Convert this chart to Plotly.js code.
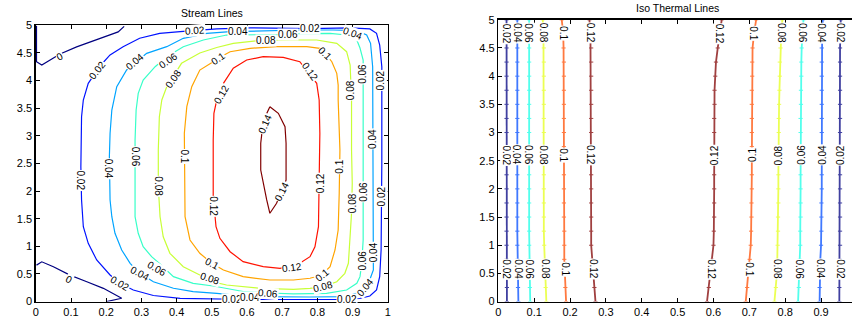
<!DOCTYPE html>
<html>
<head>
<meta charset="utf-8">
<script src="https://cdn.plot.ly/plotly-3.0.1.min.js"></script>
<style>
  html, body { margin: 0; padding: 0; background: #fff; }
  #chart { width: 852px; height: 322px; }
</style>
</head>
<body>
<div id="chart"></div>
<script>
// ---------- Stream function contours: [x, y] vertices of each level line ----------
const psi000Top = [[0.002,4.99],[0.002,4.34],[0.017,4.28],[0.04,4.37],[0.069,4.48],[0.116,4.61],[0.154,4.70],[0.192,4.78],[0.234,4.88],[0.251,4.98]];
const psi000Bottom = [[0.002,0.66],[0.017,0.72],[0.05,0.63],[0.097,0.48],[0.145,0.36],[0.192,0.24],[0.244,0.06],[0.201,0.0]];
const psi002 = [[0.41,4.884],[0.352,4.855],[0.295,4.765],[0.248,4.613],[0.211,4.463],[0.185,4.282],[0.149,3.95],[0.135,3.648],[0.13,3.346],[0.128,2.441],[0.13,1.839],[0.135,1.355],[0.149,1.055],[0.173,0.753],[0.211,0.481],[0.239,0.331],[0.277,0.21],[0.334,0.11],[0.41,0.06],[0.523,0.042],[0.608,0.038],[0.864,0.038],[0.92,0.056],[0.949,0.101],[0.968,0.21],[0.977,0.451],[0.981,0.934],[0.983,2.503],[0.983,4.25],[0.977,4.64],[0.968,4.855],[0.949,4.935],[0.892,4.955],[0.779,4.94],[0.609,4.955],[0.514,4.935],[0.41,4.884]];
const psi004 = [[0.209,2.622],[0.211,1.839],[0.216,1.536],[0.225,1.236],[0.244,0.934],[0.268,0.693],[0.296,0.512],[0.334,0.36],[0.391,0.241],[0.447,0.179],[0.514,0.15],[0.609,0.092],[0.779,0.083],[0.883,0.089],[0.921,0.179],[0.945,0.331],[0.959,0.572],[0.959,1.055],[0.957,1.839],[0.957,3.648],[0.957,4.251],[0.951,4.674],[0.94,4.825],[0.912,4.902],[0.845,4.915],[0.75,4.915],[0.637,4.897],[0.552,4.884],[0.486,4.855],[0.419,4.765],[0.372,4.613],[0.315,4.493],[0.258,4.191],[0.23,3.889],[0.216,3.467],[0.211,3.046],[0.209,2.622]];
const psi006 = [[0.282,2.923],[0.282,1.536],[0.291,1.236],[0.305,0.993],[0.329,0.813],[0.353,0.68],[0.391,0.451],[0.447,0.331],[0.504,0.282],[0.589,0.183],[0.661,0.156],[0.732,0.138],[0.826,0.15],[0.883,0.21],[0.912,0.331],[0.921,0.451],[0.926,0.693],[0.93,1.115],[0.93,2.743],[0.93,3.648],[0.93,4.372],[0.921,4.589],[0.912,4.734],[0.883,4.825],[0.836,4.855],[0.75,4.851],[0.689,4.833],[0.542,4.824],[0.476,4.734],[0.419,4.613],[0.372,4.432],[0.339,4.251],[0.305,4.01],[0.291,3.769],[0.285,3.467],[0.282,2.923]];
const psi008 = [[0.348,2.441],[0.348,2.743],[0.351,3.346],[0.358,3.648],[0.372,3.889],[0.391,4.07],[0.414,4.312],[0.466,4.499],[0.514,4.598],[0.561,4.674],[0.637,4.725],[0.722,4.734],[0.798,4.734],[0.855,4.674],[0.883,4.522],[0.893,4.282],[0.895,4.01],[0.897,3.648],[0.897,2.743],[0.899,2.141],[0.897,1.598],[0.891,0.934],[0.888,0.693],[0.878,0.512],[0.855,0.36],[0.817,0.27],[0.779,0.241],[0.732,0.223],[0.637,0.241],[0.542,0.3],[0.5,0.36],[0.466,0.481],[0.419,0.632],[0.381,0.874],[0.362,1.174],[0.353,1.536],[0.348,2.079],[0.348,2.441]];
const psi010 = [[0.504,4.341],[0.466,4.19],[0.443,3.889],[0.429,3.527],[0.422,3.046],[0.422,2.141],[0.424,1.536],[0.438,1.115],[0.466,0.874],[0.5,0.693],[0.533,0.572],[0.589,0.451],[0.665,0.391],[0.732,0.391],[0.779,0.422],[0.812,0.481],[0.836,0.632],[0.85,0.934],[0.859,1.296],[0.862,1.96],[0.864,2.743],[0.859,3.648],[0.859,3.918],[0.855,4.131],[0.841,4.341],[0.822,4.493],[0.807,4.584],[0.77,4.613],[0.684,4.613],[0.609,4.584],[0.552,4.522],[0.518,4.403],[0.504,4.341]];
const psi012 = [[0.506,3.407],[0.504,2.924],[0.504,1.898],[0.512,1.355],[0.523,1.145],[0.552,0.903],[0.589,0.722],[0.646,0.632],[0.694,0.603],[0.75,0.693],[0.779,0.813],[0.793,0.993],[0.803,1.355],[0.805,1.929],[0.807,2.743],[0.807,3.046],[0.805,3.648],[0.798,3.95],[0.75,4.341],[0.703,4.421],[0.646,4.432],[0.599,4.372],[0.561,4.222],[0.533,3.95],[0.514,3.648],[0.506,3.407]];
const psi014 = [[0.665,3.527],[0.689,3.408],[0.708,3.165],[0.711,2.865],[0.711,2.381],[0.711,2.2],[0.684,1.779],[0.665,1.598],[0.656,1.839],[0.639,2.381],[0.639,2.865],[0.645,3.2],[0.652,3.35],[0.665,3.527]];

const streamLines = [
  { level: 0,    pts: psi000Top },
  { level: 0,    pts: psi000Bottom },
  { level: 0.02, pts: psi002 },
  { level: 0.04, pts: psi004 },
  { level: 0.06, pts: psi006 },
  { level: 0.08, pts: psi008 },
  { level: 0.1,  pts: psi010 },
  { level: 0.12, pts: psi012 },
  { level: 0.14, pts: psi014 }
];

// inline contour labels: [level, x, y, rotation]
const streamLabelSpots = [
  [0, 0.068, 4.43, -28], [0, 0.095, 0.40, 27],
  [0.02, 0.452, 4.90, -4], [0.02, 0.173, 4.19, -52], [0.02, 0.127, 2.20, 90], [0.02, 0.239, 0.33, 30],
  [0.02, 0.557, 0.03, 0], [0.02, 0.883, 0.03, 0], [0.02, 0.983, 1.90, -90], [0.02, 0.979, 4.01, -90], [0.02, 0.779, 4.94, 0],
  [0.04, 0.282, 4.34, -40], [0.04, 0.207, 2.41, 90], [0.04, 0.296, 0.51, 28], [0.04, 0.609, 0.08, 0],
  [0.04, 0.935, 0.26, -50], [0.04, 0.959, 0.90, -90], [0.04, 0.956, 2.95, -90], [0.04, 0.902, 4.86, 20], [0.04, 0.575, 4.88, 0],
  [0.06, 0.376, 4.37, -35], [0.06, 0.282, 2.62, 90], [0.06, 0.343, 0.60, 30], [0.06, 0.661, 0.15, 5],
  [0.06, 0.928, 0.75, -90], [0.06, 0.930, 1.99, -90], [0.06, 0.928, 4.13, -90], [0.06, 0.716, 4.84, 0],
  [0.08, 0.391, 4.04, -55], [0.08, 0.348, 2.08, 90], [0.08, 0.495, 0.42, 18], [0.08, 0.817, 0.27, -15],
  [0.08, 0.898, 1.78, -90], [0.08, 0.896, 3.83, -90], [0.08, 0.655, 4.72, 0],
  [0.1, 0.518, 4.40, -35], [0.1, 0.422, 2.62, 90], [0.1, 0.500, 0.69, 28], [0.1, 0.812, 0.48, -40],
  [0.1, 0.864, 2.44, -90], [0.1, 0.822, 4.49, 45],
  [0.12, 0.528, 3.74, -60], [0.12, 0.779, 4.16, 55], [0.12, 0.807, 2.14, -90], [0.12, 0.727, 0.62, -8], [0.12, 0.504, 1.72, 90],
  [0.14, 0.650, 3.21, -66], [0.14, 0.699, 1.99, -64]
];

// ---------- Isotherms: x position of each level line at every y station ----------
const isoY = [0,0.25,0.5,0.75,1,1.25,1.5,1.75,2,2.25,2.5,2.75,3,3.25,3.5,3.75,4,4.25,4.5,4.75,5];
const iso002a = [0.024,0.024,0.023,0.023,0.023,0.023,0.023,0.023,0.023,0.023,0.023,0.023,0.023,0.023,0.023,0.023,0.023,0.023,0.023,0.023,0.023];
const iso004a = [0.056,0.055,0.054,0.053,0.053,0.053,0.053,0.053,0.053,0.053,0.053,0.053,0.053,0.053,0.053,0.053,0.053,0.053,0.053,0.053,0.053];
const iso006a = [0.089,0.088,0.087,0.086,0.086,0.086,0.086,0.086,0.086,0.086,0.086,0.086,0.086,0.086,0.086,0.086,0.086,0.086,0.086,0.086,0.086];
const iso008a = [0.134,0.132,0.130,0.128,0.128,0.127,0.127,0.127,0.127,0.127,0.127,0.127,0.127,0.127,0.127,0.127,0.127,0.127,0.127,0.126,0.124];
const iso010a = [0.189,0.187,0.185,0.184,0.184,0.184,0.183,0.183,0.183,0.183,0.183,0.183,0.183,0.183,0.183,0.183,0.183,0.183,0.182,0.181,0.177];
const iso012a = [0.271,0.268,0.264,0.261,0.259,0.259,0.259,0.259,0.259,0.259,0.259,0.259,0.259,0.259,0.259,0.259,0.259,0.259,0.259,0.257,0.254];
const iso012b = [0.582,0.587,0.592,0.596,0.600,0.601,0.602,0.602,0.602,0.602,0.602,0.602,0.602,0.602,0.603,0.603,0.605,0.607,0.612,0.617,0.623];
const iso010b = [0.690,0.694,0.698,0.701,0.704,0.705,0.706,0.706,0.707,0.707,0.707,0.707,0.707,0.707,0.707,0.707,0.708,0.708,0.709,0.713,0.719];
const iso008b = [0.770,0.774,0.777,0.778,0.779,0.780,0.780,0.781,0.781,0.781,0.781,0.782,0.782,0.782,0.783,0.784,0.785,0.785,0.787,0.789,0.792];
const iso006b = [0.836,0.838,0.840,0.841,0.842,0.842,0.843,0.843,0.843,0.843,0.843,0.843,0.843,0.843,0.844,0.844,0.845,0.845,0.846,0.848,0.851];
const iso004b = [0.896,0.896,0.897,0.898,0.900,0.901,0.901,0.901,0.902,0.902,0.902,0.902,0.902,0.902,0.902,0.902,0.902,0.902,0.902,0.903,0.905];
const iso002b = [0.951,0.951,0.952,0.952,0.953,0.953,0.953,0.953,0.953,0.953,0.953,0.953,0.953,0.953,0.953,0.953,0.953,0.953,0.953,0.954,0.955];

const isoLines = [
  { level: 0.02, xs: iso002a, side: 'left' },  { level: 0.04, xs: iso004a, side: 'left' },
  { level: 0.06, xs: iso006a, side: 'left' },  { level: 0.08, xs: iso008a, side: 'left' },
  { level: 0.1,  xs: iso010a, side: 'left' },  { level: 0.12, xs: iso012a, side: 'left' },
  { level: 0.12, xs: iso012b, side: 'right' }, { level: 0.1,  xs: iso010b, side: 'right' },
  { level: 0.08, xs: iso008b, side: 'right' }, { level: 0.06, xs: iso006b, side: 'right' },
  { level: 0.04, xs: iso004b, side: 'right' }, { level: 0.02, xs: iso002b, side: 'right' }
];
// heights of the inline labels on every isotherm, with their rotation per side
const isoLabelRows = [
  { y: 4.76, left: 90, right: 90 },
  { y: 2.60, left: 90, right: -90 },
  { y: 0.58, left: 90, right: 90 }
];

// MATLAB-style jet colour map
function jet(t) {
  const c = v => Math.max(0, Math.min(1, v));
  const r = c(1.5 - Math.abs(4 * t - 3));
  const g = c(1.5 - Math.abs(4 * t - 2));
  const b = c(1.5 - Math.abs(4 * t - 1));
  return `rgb(${Math.round(r * 255)},${Math.round(g * 255)},${Math.round(b * 255)})`;
}
const streamColor = lv => jet(lv / 0.14);
const isoColor = lv => jet((lv - 0.02) / 0.10);

const traces = [];
streamLines.forEach(s => {
  traces.push({
    type: 'scatter', mode: 'lines', xaxis: 'x', yaxis: 'y',
    x: s.pts.map(p => p[0]), y: s.pts.map(p => p[1]),
    line: { color: streamColor(s.level), width: 1.2 },
    hoverinfo: 'skip'
  });
});
isoLines.forEach(l => {
  traces.push({
    type: 'scatter', mode: 'lines+markers', xaxis: 'x2', yaxis: 'y2',
    x: l.xs, y: isoY,
    line: { color: isoColor(l.level), width: 1.8 },
    marker: { symbol: 'line-ew', size: 3, line: { width: 1, color: isoColor(l.level) } },
    opacity: 0.75,
    hoverinfo: 'skip'
  });
});

const labelFont = { family: 'Liberation Sans, Arial, sans-serif', size: 10, color: '#000' };
const annotations = [];
streamLabelSpots.forEach(([lv, x, y, ang]) => {
  annotations.push({
    xref: 'x', yref: 'y', x, y, text: String(lv), showarrow: false,
    textangle: ang, font: labelFont, bgcolor: '#fff', borderpad: 0
  });
});
isoLines.forEach(l => {
  isoLabelRows.forEach(row => {
    // place the label on the line at the station nearest to the row height
    let k = 0;
    isoY.forEach((yy, i) => { if (Math.abs(yy - row.y) < Math.abs(isoY[k] - row.y)) k = i; });
    annotations.push({
      xref: 'x2', yref: 'y2', x: l.xs[k], y: row.y, text: String(l.level), showarrow: false,
      textangle: l.side === 'left' ? row.left : row.right, font: labelFont, bgcolor: '#fff', borderpad: 0
    });
  });
});
const titleFont = { family: 'Liberation Sans, Arial, sans-serif', size: 10.5, color: '#000' };
annotations.push({ xref: 'paper', yref: 'paper', x: 212 / 852, y: (322 - 13) / 322, xanchor: 'center', yanchor: 'middle',
  text: 'Stream Lines', showarrow: false, font: titleFont });
annotations.push({ xref: 'paper', yref: 'paper', x: 677.5 / 852, y: (322 - 8) / 322, xanchor: 'center', yanchor: 'middle',
  text: 'Iso Thermal Lines', showarrow: false, font: titleFont });

const axisBase = {
  showgrid: false, zeroline: false, showline: true, linecolor: '#000', linewidth: 1.5,
  ticks: 'inside', ticklen: 4, tickwidth: 1, tickcolor: '#000',
  tickfont: { family: 'Liberation Sans, Arial, sans-serif', size: 11, color: '#000' }
};

const layout = {
  width: 852, height: 322,
  margin: { l: 0, r: 0, t: 0, b: 0 },
  paper_bgcolor: '#fff', plot_bgcolor: '#fff',
  showlegend: false,
  xaxis: Object.assign({}, axisBase, { domain: [35.8 / 852, 387.8 / 852], range: [0, 1], tick0: 0, dtick: 0.1, mirror: 'ticks', anchor: 'y' }),
  yaxis: Object.assign({}, axisBase, { domain: [(322 - 301.6) / 322, (322 - 25.3) / 322], range: [0, 5], tick0: 0, dtick: 0.5, mirror: 'ticks', anchor: 'x' }),
  xaxis2: Object.assign({}, axisBase, { domain: [498.3 / 852, 1], range: [0, (852 - 498.3) / 358.6], tick0: 0, dtick: 0.1, mirror: 'ticks', anchor: 'y2' }),
  yaxis2: Object.assign({}, axisBase, { domain: [(322 - 301.6) / 322, (322 - 19.8) / 322], range: [0, 5], tick0: 0, dtick: 0.5, mirror: false, anchor: 'x2' }),
  annotations
};

Plotly.newPlot('chart', traces, layout, { staticPlot: true, displayModeBar: false });
</script>
</body>
</html>
